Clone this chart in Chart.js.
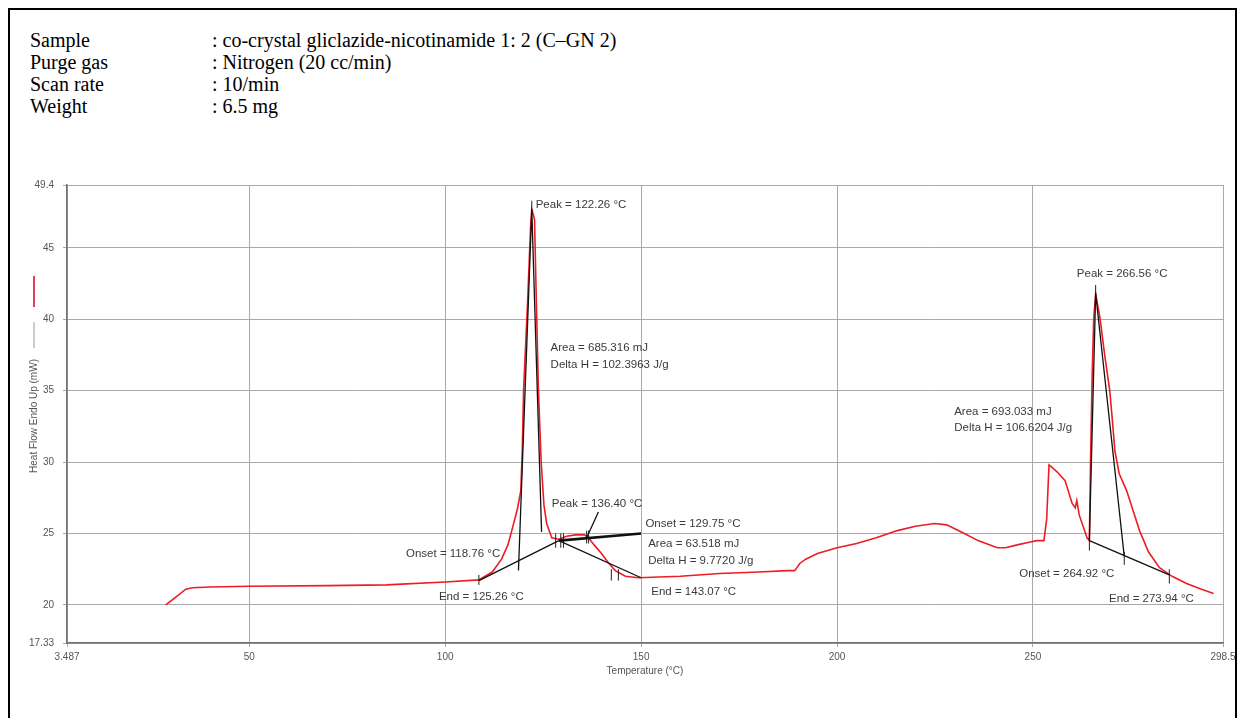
<!DOCTYPE html>
<html>
<head>
<meta charset="utf-8">
<script src="https://cdn.jsdelivr.net/npm/chart.js@4.4.1/dist/chart.umd.min.js"></script>
<style>
  html, body { margin:0; padding:0; background:#fff; }
  #wrap { position:relative; width:1245px; height:718px; overflow:hidden; }
  #frame { position:absolute; left:8px; top:8px; width:1229px; height:720px; border:2px solid #000; box-sizing:border-box; }
  .hdr { position:absolute; font-family:"Liberation Serif","Times New Roman",serif; font-size:20px; color:#000; line-height:22px; white-space:nowrap; }
  canvas { position:absolute; left:0; top:0; }
</style>
</head>
<body>
<div id="wrap">
  <div id="frame"></div>
  <div class="hdr" style="left:30px;top:29px">Sample</div>
  <div class="hdr" style="left:212px;top:29px">: co-crystal gliclazide-nicotinamide 1: 2 (C–GN 2)</div>
  <div class="hdr" style="left:30px;top:51px">Purge gas</div>
  <div class="hdr" style="left:212px;top:51px">: Nitrogen (20 cc/min)</div>
  <div class="hdr" style="left:30px;top:73px">Scan rate</div>
  <div class="hdr" style="left:212px;top:73px">: 10/min</div>
  <div class="hdr" style="left:30px;top:95px">Weight</div>
  <div class="hdr" style="left:212px;top:95px">: 6.5 mg</div>
  <canvas id="dsc" width="1245" height="718"></canvas>
</div>
<script>
// ===== Data =====
const sampleTemp = [28.7,31.5,33.8,35.5,40,50,70,85,100,108.6,112,114.4,116,117,118.5,119.3,119.7,120.0,121.0,121.8,122.1,122.8,123.2,123.8,124.5,125.2,125.9,127.2,129,131,133.3,135.5,136.6,138,139.9,141.5,143.4,146,149.3,160,170,180,187.4,189.2,190.5,192,195,200,205,210,215.4,220,224.9,228,232.5,236,240.9,243,246,249.3,251,252.8,253.5,254.1,255,256.2,258.2,260,260.8,261.2,261.8,263.8,264.4,264.7,265.1,265.5,266.0,267.1,268.3,269.6,270.4,270.9,272.0,273.9,277.2,279.5,282.3,285.5,289.2,293,296.1];
const sampleFlow = [20.0,20.6,21.1,21.2,21.25,21.3,21.35,21.4,21.6,21.75,22.3,23.2,24.2,25.2,26.8,28.0,31,35.0,41,46.5,47.7,47.0,42,35.0,30,27.0,25.7,24.7,24.6,24.8,24.9,24.9,24.7,24.2,23.6,23.0,22.4,22.0,21.9,22.0,22.2,22.3,22.4,22.4,22.9,23.2,23.6,24.0,24.3,24.7,25.2,25.5,25.7,25.6,25.0,24.5,24.0,24.0,24.2,24.4,24.5,24.5,26,29.8,29.6,29.3,28.7,27.1,26.8,27.3,26.3,24.7,24.5,30,36,40,41.8,40.1,37.5,35.0,32.5,30.8,29.2,28.0,25.2,23.7,22.6,22.0,21.5,21.1,20.8];

// analysis construction lines (pairs of points, null = break)
const constructTemp = [108.6,129.0,null, 129.0,150.0,null, 122.1,118.7,null, 122.1,124.6,null, 264.4,284.8,null, 266.0,264.4,null, 266.0,273.3,null, 139.1,136.1];
const constructFlow = [21.7,24.5,null, 24.5,21.9,null, 47.7,22.4,null, 47.7,25.1,null, 24.5,22.1,null, 41.8,24.5,null, 41.8,23.4,null, 26.5,24.7];
const tangentTemp = [129.0,150.0];
const tangentFlow = [24.5,25.0];

// short limit markers
const markTemp = [108.6,128.2,129.5,130.2,136.1,136.6,142.4,144.2,122.1,264.4,273.3,284.8,266.0];
const markLow  = [21.4,24.0,24.0,24.0,24.3,24.3,21.7,21.7,47.3,23.8,22.8,21.5,41.6];
const markHigh = [22.1,25.0,25.0,25.0,25.2,25.2,22.5,22.5,48.3,24.9,23.7,22.5,42.4];

const xTicks = [3.487,50,100,150,200,250,298.5];
const xTickLabels = ["3.487","50","100","150","200","250","298.5"];
const yTicks = [17.33,20,25,30,35,40,45,49.4];
const yTickLabels = ["17.33","20","25","30","35","40","45","49.4"];

const noteText = ["Peak = 122.26 °C","Area = 685.316 mJ","Delta H = 102.3963 J/g","Peak = 136.40 °C","Onset = 129.75 °C","Area = 63.518 mJ","Delta H = 9.7720 J/g","Onset = 118.76 °C","End = 125.26 °C","End = 143.07 °C","Peak = 266.56 °C","Area = 693.033 mJ","Delta H = 106.6204 J/g","Onset = 264.92 °C","End = 273.94 °C"];
const noteTemp = [123.1,126.9,126.9,127.2,151.1,151.8,151.8,90.0,98.4,152.6,261.2,229.9,229.9,246.5,269.4];
const noteFlow = [48.0,38.0,36.8,27.1,25.7,24.25,23.06,23.6,20.55,20.9,43.2,33.55,32.37,22.2,20.4];

// ===== Helpers =====
const pts = (xs, ys) => xs.map((x,i) => x===null ? {x:null,y:null} : {x:x, y:ys[i]});
function markPts(){
  const out = [];
  markTemp.forEach((t,i)=>{ out.push({x:t,y:markLow[i]},{x:t,y:markHigh[i]},{x:null,y:null}); });
  return out;
}
const FONT = '"Liberation Sans", Arial, sans-serif';

// ===== Text plugin =====
const textPlugin = {
  id:'dscText',
  afterDatasetsDraw(chart){
    const {ctx, scales:{x,y}, chartArea:a} = chart;
    ctx.save();
    ctx.fillStyle = '#3a3a3a';
    ctx.font = '11.5px ' + FONT;
    ctx.textAlign = 'left'; ctx.textBaseline = 'middle';
    noteText.forEach((t,i)=>ctx.fillText(t, x.getPixelForValue(noteTemp[i]), y.getPixelForValue(noteFlow[i])));
    // axis titles
    ctx.fillStyle = '#555';
    ctx.font = '10px ' + FONT;
    ctx.textAlign = 'center';
    ctx.fillText('Temperature (°C)', (a.left+a.right)/2, a.bottom+28);
    ctx.save();
    ctx.translate(34, 416); ctx.rotate(-Math.PI/2);
    ctx.fillText('Heat Flow Endo Up (mW)', 0, 0);
    ctx.restore();
    // legend swatches beside the y title
    ctx.lineWidth = 2; ctx.strokeStyle = '#e0405a';
    ctx.beginPath(); ctx.moveTo(34, 276); ctx.lineTo(34, 307); ctx.stroke();
    ctx.lineWidth = 1; ctx.strokeStyle = '#999';
    ctx.beginPath(); ctx.moveTo(34, 322); ctx.lineTo(34, 348); ctx.stroke();
    ctx.restore();
  }
};

// ===== Chart =====
new Chart(document.getElementById('dsc'), {
  type:'scatter',
  data:{
    datasets:[
      {data:pts(tangentTemp, tangentFlow), showLine:true, borderColor:'#111', borderWidth:2.6, pointRadius:0},
      {data:pts(constructTemp, constructFlow), showLine:true, spanGaps:false, borderColor:'#111', borderWidth:1.3, pointRadius:0},
      {data:markPts(), showLine:true, spanGaps:false, borderColor:'#222', borderWidth:1, pointRadius:0},
      {data:pts(sampleTemp, sampleFlow), showLine:true, borderColor:'#ee1c25', borderWidth:1.6, pointRadius:0, tension:0}
    ]
  },
  options:{
    responsive:false, animation:false, events:[],
    layout:{padding:{left:0, top:185, right:22, bottom:0}},
    plugins:{legend:{display:false}, tooltip:{enabled:false}},
    scales:{
      x:{
        type:'linear', min:3.487, max:298.5,
        afterBuildTicks: s => { s.ticks = xTicks.map(v=>({value:v})); },
        afterFit: s => { s.height = 75; },
        ticks:{autoSkip:false, maxRotation:0, padding:4, color:'#555', font:{size:10, family:FONT},
               callback:(v,i)=>xTickLabels[i]},
        grid:{color:'#a9a9a9', tickLength:4},
        border:{color:'#707070', width:1.5}
      },
      y:{
        type:'linear', min:17.33, max:49.4,
        afterBuildTicks: s => { s.ticks = yTicks.map(v=>({value:v})); },
        afterFit: s => { s.width = 67; },
        ticks:{autoSkip:false, padding:9, color:'#555', font:{size:10, family:FONT},
               callback:(v,i)=>yTickLabels[i]},
        grid:{color:'#a9a9a9', tickLength:4},
        border:{color:'#707070', width:1.5}
      }
    }
  },
  plugins:[textPlugin]
});
</script>
</body>
</html>
